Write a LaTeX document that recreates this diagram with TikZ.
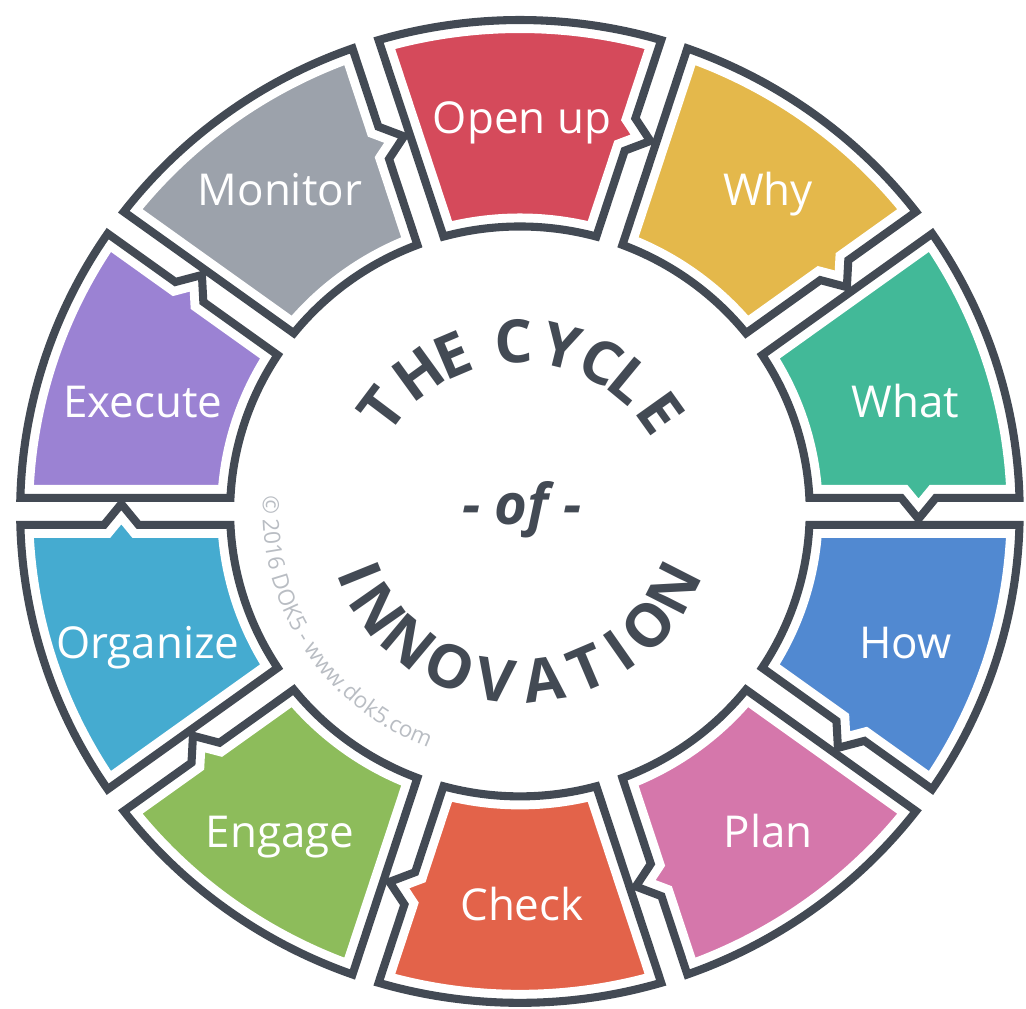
\documentclass[tikz,border=0pt]{standalone}
\usepackage{fontspec}
\setmainfont{Open Sans}
\usetikzlibrary{decorations.text}

\definecolor{rim}{HTML}{434A54}
\definecolor{openc}{HTML}{D54A5B}
\definecolor{whyc}{HTML}{E4B84B}
\definecolor{whatc}{HTML}{42B998}
\definecolor{howc}{HTML}{5189D1}
\definecolor{planc}{HTML}{D577AB}
\definecolor{checkc}{HTML}{E3634A}
\definecolor{engagec}{HTML}{8DBC5B}
\definecolor{organizec}{HTML}{45ABD0}
\definecolor{executec}{HTML}{9B82D3}
\definecolor{monitorc}{HTML}{9CA2AB}
\definecolor{notec}{HTML}{B9BDC3}

\tikzset{
  seg/.style={draw=rim, line width=2.3pt},
  gap/.style={draw=white, line width=7.4pt},
  lbl/.style={text=white, font=\fontsize{12.5}{15}\selectfont, text height=8.9pt, text depth=0pt},
  big/.style={text=rim, font=\fontsize{17}{20}\selectfont\bfseries, inner sep=0pt}
}

\newcommand{\segpath}{(\angO:\Rout) arc[start angle=\angO, end angle=36-\angO, radius=\Rout]
  -- (36-\angI:\Rin) arc[start angle=36-\angI, end angle=\angI, radius=\Rin]
  -- (\Rmid-17,\hgap) -- (\Rmid,\hgap-21) -- (\Rmid+17,\hgap) -- cycle}

\begin{document}
\begin{tikzpicture}[x=0.1mm, y=0.1mm, xscale=1.017]
\pgfmathsetmacro{\Rout}{491.5}
\pgfmathsetmacro{\Rin}{285}
\pgfmathsetmacro{\Rmid}{392}
\pgfmathsetmacro{\hgap}{13.5}
\pgfmathsetmacro{\angO}{asin(\hgap/\Rout)}
\pgfmathsetmacro{\angI}{asin(\hgap/\Rin)}
\useasboundingbox (-511.3,-497.5) rectangle (497.7,511.5);

\foreach \a/\c in {72/openc, 36/whyc, 0/whatc, -36/howc, -72/planc, -108/checkc,
    -144/engagec, 180/organizec, 144/executec, 108/monitorc}{
  \begin{scope}[rotate=\a]
    \begin{scope}
      \clip \segpath;
      \fill[\c] \segpath;
      \draw[gap] \segpath;
    \end{scope}
    \draw[seg] \segpath;
  \end{scope}
}

\node[lbl] (open) at (2,394) {Open up};
\node[lbl] (why) at (244,322) {Why};
\node[lbl] (what) at (379,110) {What};
\node[lbl] (how) at (379,-131) {How};
\node[lbl] (plan) at (244,-320) {Plan};
\node[lbl] (check) at (2,-393) {Check};
\node[lbl] (engage) at (-236,-320) {Engage};
\node[lbl] (organize) at (-366,-131) {Organize};
\node[lbl] (execute) at (-371,110) {Execute};
\node[lbl] (monitor) at (-236,322) {Monitor};

\foreach \ch/\ang [count=\i] in {T/143, H/126, E/113, C/92, Y/76, C/62, L/50.5, E/35.5}
  \node[big, rotate=\ang-90] (top\i) at (\ang:170) {\ch};
\foreach \ch/\ang [count=\i] in {I/202, N/215, N/230, O/246, V/262, A/278, T/293, I/305, O/318, N/333}
  \node[big, rotate=\ang+90] (bot\i) at (\ang:170) {\ch};

\node[text=rim, font=\fontsize{16}{18}\selectfont\bfseries\itshape] (of) at (2,2) {- of -};

\path[decorate, decoration={text along path, text align=center,
  text={|\fontsize{6.4}{7}\selectfont\color{notec}|© 2016 DOK5 - www.dok5.com}}]
  (157.6:253) arc[start angle=157.6, end angle=267.6, radius=253];
\end{tikzpicture}
\end{document}
